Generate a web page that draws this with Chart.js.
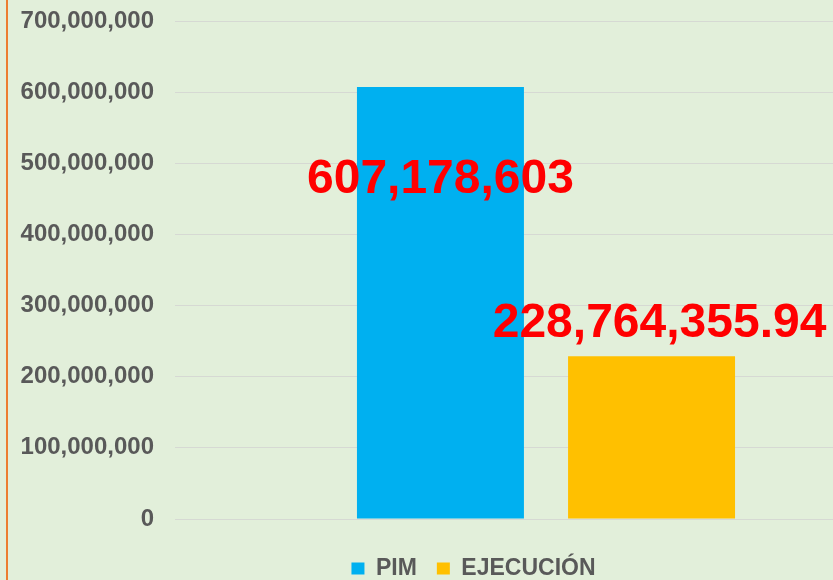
<!DOCTYPE html>
<html>
<head>
<meta charset="utf-8">
<script src="https://cdn.jsdelivr.net/npm/chart.js@4"></script>
<style>
  html, body { margin: 0; padding: 0; background: #E2EFDA; overflow: hidden; width: 833px; height: 580px; }
  #wrap { position: absolute; left: 0; top: 0; width: 950px; height: 590px; }
  #edge { position: absolute; left: 6px; top: 0; width: 2px; height: 580px; background: #ED7D31; }
</style>
</head>
<body>
<div id="wrap"><canvas id="chart" width="950" height="590"></canvas></div>
<div id="edge"></div>
<script>
const categories = [""];
const seriesNames = ["PIM", "EJECUCIÓN"];
const pimValues = [607178603];
const ejecucionValues = [228764355.94];
const valueLabels = ["607,178,603", "228,764,355.94"];
const yTicks = [0, 100000000, 200000000, 300000000, 400000000, 500000000, 600000000, 700000000];

// label offsets from the top of each bar (px)
const labelOffsets = [{ dx: 0, dy: 93 }, { dx: 8, dy: -32 }];

const barLabels = {
  id: "barLabels",
  afterLayout(chart) {
    // nudge the legend so it sits centred like the original
    chart.legend.left += 15;
  },
  afterDatasetsDraw(chart) {
    const ctx = chart.ctx;
    ctx.save();
    ctx.font = "bold 48px 'Liberation Sans', Arial, sans-serif";
    ctx.fillStyle = "#FF0000";
    ctx.textAlign = "center";
    ctx.textBaseline = "middle";
    chart.data.datasets.forEach((ds, i) => {
      const bar = chart.getDatasetMeta(i).data[0];
      ctx.fillText(valueLabels[i], bar.x + labelOffsets[i].dx, bar.y + labelOffsets[i].dy);
    });
    ctx.restore();
  }
};

new Chart(document.getElementById("chart"), {
  type: "bar",
  data: {
    labels: categories,
    datasets: [
      { label: seriesNames[0], data: pimValues, backgroundColor: "#00B0F0" },
      { label: seriesNames[1], data: ejecucionValues, backgroundColor: "#FFC000" }
    ]
  },
  options: {
    responsive: false,
    animation: false,
    categoryPercentage: 0.569,
    barPercentage: 0.791,
    layout: { padding: { left: 15, right: 33, top: 21, bottom: 0 } },
    plugins: {
      tooltip: { enabled: false },
      legend: {
        position: "bottom",
        labels: {
          boxWidth: 13,
          boxHeight: 12,
          padding: 20,
          color: "#595959",
          font: { family: "'Liberation Sans', Arial, sans-serif", size: 23, weight: "bold" }
        }
      }
    },
    scales: {
      x: {
        grid: { display: false },
        border: { display: false },
        ticks: { display: false },
        afterFit: axis => { axis.height = 18; }
      },
      y: {
        min: 0,
        max: yTicks[yTicks.length - 1],
        afterBuildTicks: axis => { axis.ticks = yTicks.map(v => ({ value: v })); },
        afterFit: axis => {
          axis.width = 160;
          axis.paddingTop = 0;
          axis.paddingBottom = 0;
        },
        grid: { color: "#D6D9D3", lineWidth: 1, drawTicks: false },
        border: { display: false },
        ticks: {
          padding: 21,
          color: "#595959",
          font: { family: "'Liberation Sans', Arial, sans-serif", size: 24, weight: "bold" },
          callback: v => v.toLocaleString("en-US")
        }
      }
    }
  },
  plugins: [barLabels]
});
</script>
</body>
</html>
